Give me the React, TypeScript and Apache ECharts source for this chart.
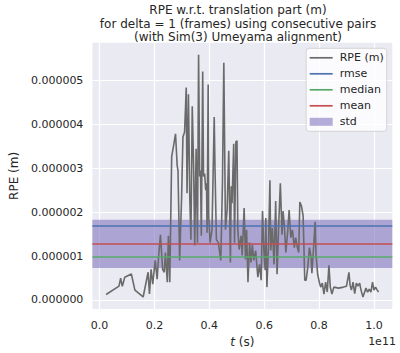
import React, { useEffect, useRef } from "react";
import * as echarts from "echarts";

// time stamps in units of 1e10 s
const timeE10 = [
  0.24, 0.71, 0.77, 0.83, 0.92, 1.16, 1.29, 1.59, 1.77, 1.82, 1.88, 1.94, 2.03, 2.1, 2.15, 2.22, 2.3, 2.36, 2.4, 2.47,
  2.51, 2.56, 2.63, 2.71, 2.77, 2.83, 2.86, 2.92, 2.99, 3.04, 3.1, 3.16, 3.19, 3.24, 3.29, 3.33, 3.38, 3.43, 3.47, 3.52,
  3.57, 3.61, 3.65, 3.68, 3.71, 3.76, 3.79, 3.83, 3.87, 3.9, 3.92, 3.96, 3.98, 4.03, 4.1, 4.18, 4.21, 4.26, 4.33, 4.42,
  4.48, 4.53, 4.59, 4.65, 4.71, 4.77, 4.8, 4.83, 4.89, 4.92, 4.97, 5.01, 5.04, 5.09, 5.16, 5.2, 5.27, 5.32, 5.36, 5.41,
  5.47, 5.52, 5.57, 5.62, 5.69, 5.77, 5.83, 5.89, 5.94, 6.0, 6.04, 6.06, 6.1, 6.16, 6.21, 6.24, 6.3, 6.36, 6.42, 6.47,
  6.53, 6.59, 6.65, 6.69, 6.74, 6.79, 6.86, 6.91, 6.97, 7.03, 7.1, 7.15, 7.21, 7.26, 7.3, 7.36, 7.42, 7.48, 7.53, 7.59,
  7.65, 7.71, 7.74, 7.79, 7.86, 7.89, 7.95, 8.01, 8.06, 8.12, 8.18, 8.24, 8.3, 8.36, 8.41, 8.47, 8.54, 8.71, 8.89, 9.0,
  9.09, 9.13, 9.18, 9.24, 9.3, 9.36, 9.42, 9.48, 9.53, 9.6, 9.71, 9.77, 9.83, 9.89, 9.95, 10.0, 10.06, 10.12, 10.17,
];

// RPE values in units of 1e-6 m
const rpeE6 = [
  0.124, 0.315, 0.495, 0.309, 0.518, 0.592, 0.225, 0.068, 0.631, 0.135, 0.698, 0.36, 0.901, 0.473, 0.968, 1.486, 0.698, 0.631, 1.081, 0.405,
  1.464, 0.405, 3.266, 3.559, 3.784, 3.063, 2.95, 0.901, 2.32, 3.716, 3.829, 4.842, 2.432, 4.685, 2.32, 1.374, 4.414, 2.995, 1.239, 3.446,
  1.306, 5.586, 2.815, 2.95, 1.464, 5.203, 2.815, 2.883, 2.5, 2.658, 1.532, 4.91, 1.914, 1.306, 1.599, 4.167, 2.95, 1.374, 1.306, 0.901,
  2.658, 5.405, 1.599, 2.05, 3.401, 0.856, 2.59, 2.207, 3.559, 1.306, 3.604, 3.626, 1.599, 1.149, 1.464, 1.014, 2.095, 0.923, 1.599, 0.405,
  1.306, 0.856, 1.261, 0.901, 1.126, 0.518, 0.811, 0.45, 2.027, 0.968, 0.676, 1.869, 0.293, 1.261, 2.725, 1.126, 1.644, 0.811, 2.252, 0.586,
  1.712, 2.658, 1.486, 2.027, 1.644, 1.081, 1.577, 2.05, 1.419, 1.599, 1.194, 1.419, 1.194, 1.081, 2.23, 2.14, 1.914, 0.45, 0.45, 0.743,
  1.194, 0.968, 0.608, 1.081, 1.779, 1.036, 0.586, 0.405, 0.293, 0.383, 0.135, 0.405, 0.18, 0.788, 0.293, 0.135, 0.293, 0.27, 0.293, 0.315,
  0.631, 0.338, 0.225, 0.405, 0.142, 0.383, 0.315, 0.383, 0.225, 0.068, 0.27, 0.18, 0.248, 0.18, 0.405, 0.225, 0.293, 0.225, 0.18,
];

// statistics in units of 1e-6 m
const statNames = ["rmse", "median", "mean"];
const statValuesE6 = [1.68, 0.99, 1.28];
const statColors = ["#4C72B0", "#55A868", "#C44E52"];
const meanE6 = 1.28;
const stdE6 = 0.55;

const xTicks = [0, 0.2, 0.4, 0.6, 0.8, 1.0]; // units of 1e11 s
const yTicks = [0, 1, 2, 3, 4, 5]; // units of 1e-6 m

const FONT = '"DejaVu Sans", sans-serif';
const TXT = "#262626";
const LINE_ICON = "path://M0,0 L23,0 L23,1.7 L0,1.7 Z";
const STD_COLOR = "rgba(120,105,185,0.55)";

export default function App() {
  const ref = useRef<HTMLDivElement>(null);
  useEffect(() => {
    document.body.style.margin = "0";
    if (!ref.current) return;
    const chart = echarts.init(ref.current, undefined, { renderer: "svg" });
    const data = timeE10.map((t, i) => [t * 1e10, rpeE6[i] * 1e-6]);
    chart.setOption({
      animation: false,
      textStyle: { fontFamily: FONT },
      grid: { left: 82.6, right: 7.7, top: 42.7, bottom: 40.8, show: true, backgroundColor: "#EAEAF2", borderWidth: 0 },
      graphic: [
        {
          type: "text",
          x: 238,
          y: 3.5,
          style: {
            text: "RPE w.r.t. translation part (m)\nfor delta = 1 (frames) using consecutive pairs\n(with Sim(3) Umeyama alignment)",
            textAlign: "center",
            font: `12px ${FONT}`,
            lineHeight: 13.4,
            fill: TXT,
          },
        },
        {
          type: "text",
          x: 382,
          y: 336,
          style: { text: "1e11", textAlign: "center", font: `11px ${FONT}`, fill: TXT },
        },
      ],
      legend: {
        orient: "vertical",
        right: 13.3,
        top: 48.3,
        padding: [4, 3, 4, 3.5],
        itemGap: 5,
        itemWidth: 23,
        itemHeight: 8,
        backgroundColor: "rgba(255,255,255,0.8)",
        borderColor: "rgba(204,204,204,0.8)",
        borderWidth: 1,
        borderRadius: 3,
        textStyle: { fontSize: 11, color: TXT, fontFamily: FONT, padding: [0, 0, 0, 2] },
        data: [
          { name: "RPE (m)", icon: LINE_ICON },
          ...statNames.map((n) => ({ name: n, icon: LINE_ICON })),
          { name: "std", icon: "rect" },
        ],
      },
      xAxis: {
        type: "value",
        min: -0.26e10,
        max: 10.67e10,
        name: "{i|t} (s)",
        nameLocation: "middle",
        nameGap: 25,
        nameTextStyle: {
          fontSize: 12,
          color: TXT,
          rich: { i: { fontStyle: "italic", fontSize: 12, color: TXT, fontFamily: FONT } },
        },
        axisLine: { show: false },
        axisTick: { show: false, customValues: xTicks.map((v) => v * 1e11) },
        axisLabel: {
          customValues: xTicks.map((v) => v * 1e11),
          formatter: (v: number) => (v / 1e11).toFixed(1),
          fontSize: 11,
          color: TXT,
          margin: 11,
        },
        splitLine: { show: true, lineStyle: { color: "#ffffff", width: 1.2 } },
      },
      yAxis: {
        type: "value",
        min: -0.208e-6,
        max: 5.862e-6,
        name: "RPE (m)",
        nameLocation: "middle",
        nameGap: 64,
        nameTextStyle: { fontSize: 12, color: TXT },
        axisLine: { show: false },
        axisTick: { show: false, customValues: yTicks.map((v) => v * 1e-6) },
        axisLabel: {
          customValues: yTicks.map((v) => v * 1e-6),
          formatter: (v: number) => Math.abs(v).toFixed(6),
          fontSize: 11,
          color: TXT,
          margin: 9,
        },
        splitLine: { show: true, lineStyle: { color: "#ffffff", width: 1.2 } },
      },
      series: [
        {
          name: "std",
          type: "line",
          data: [],
          symbol: "none",
          z: 1,
          color: STD_COLOR,
          itemStyle: { color: STD_COLOR },
          lineStyle: { color: STD_COLOR },
          markArea: {
            silent: true,
            itemStyle: { color: STD_COLOR },
            label: { show: false },
            data: [[{ yAxis: (meanE6 - stdE6) * 1e-6 }, { yAxis: (meanE6 + stdE6) * 1e-6 }]],
          },
        },
        {
          name: "RPE (m)",
          type: "line",
          data,
          symbol: "none",
          z: 3,
          color: "#6a6a6a",
          lineStyle: { color: "#6a6a6a", width: 1.6 },
          markLine: {
            silent: true,
            symbol: "none",
            precision: 12,
            label: { show: false },
            emphasis: { disabled: true },
            data: statValuesE6.map((v, i) => ({
              yAxis: v * 1e-6,
              lineStyle: { color: statColors[i], width: 1.7, type: "solid" },
            })),
          },
        },
        ...statNames.map((n, i) => ({
          name: n,
          type: "line",
          data: [],
          symbol: "none",
          color: statColors[i],
          itemStyle: { color: statColors[i] },
          lineStyle: { color: statColors[i], width: 1.6 },
        })),
      ],
    });
    return () => chart.dispose();
  }, []);
  return <div ref={ref} style={{ width: 400, height: 353 }} />;
}
